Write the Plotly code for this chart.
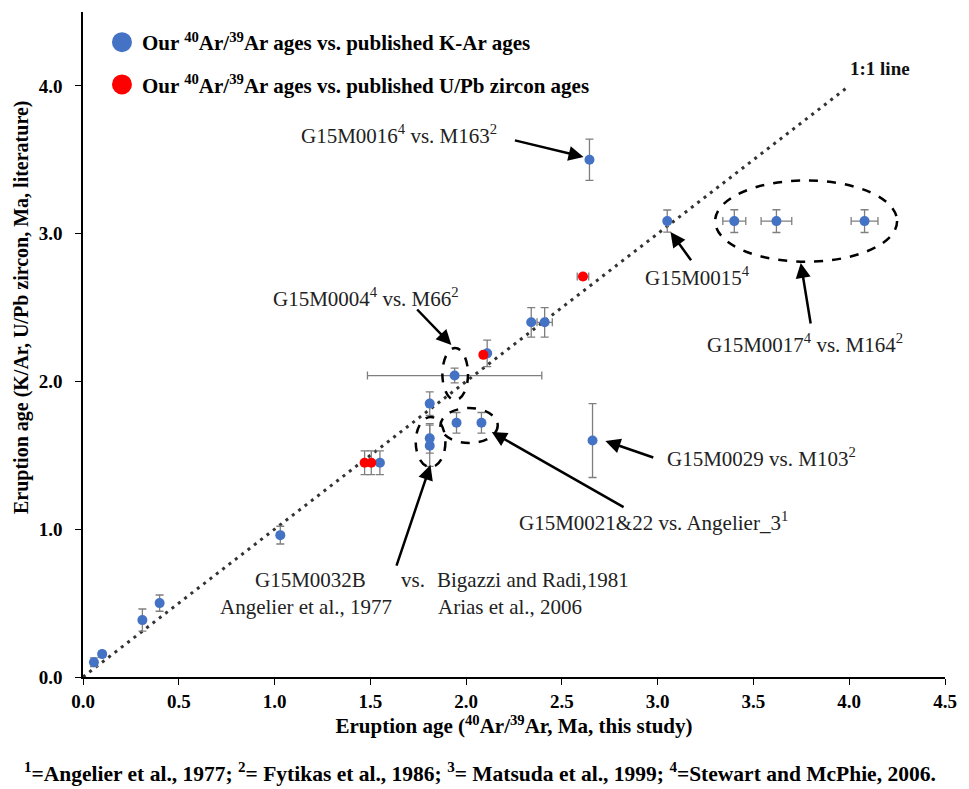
import plotly.graph_objects as go

# ---- data ----
blue_x = [0.057, 0.10, 0.31, 0.40, 1.03, 1.55, 1.81, 1.81, 1.81, 1.94, 1.95, 2.08, 2.11, 2.34, 2.41, 2.644, 3.05, 3.40, 3.62, 4.08, 2.66]
blue_y = [0.10, 0.155, 0.385, 0.50, 0.96, 1.45, 1.565, 1.615, 1.85, 2.04, 1.72, 1.72, 2.19, 2.40, 2.40, 3.50, 3.085, 3.085, 3.085, 3.085, 1.60]
blue_xerr = [0, 0, 0, 0, 0, 0, 0, 0, 0, 0.455, 0, 0, 0, 0, 0.04, 0, 0, 0.06, 0.08, 0.07, 0]
blue_yerr = [0.03, 0.02, 0.075, 0.055, 0.06, 0.08, 0.14, 0.10, 0.08, 0.05, 0.07, 0.07, 0.09, 0.10, 0.10, 0.14, 0.075, 0.077, 0.077, 0.077, 0.25]

red_x = [1.47, 1.505, 2.09, 2.61]
red_y = [1.45, 1.45, 2.18, 2.71]
red_xerr = [0, 0, 0, 0.03]
red_yerr = [0.08, 0.08, 0.0, 0.02]

line_x = [0.0, 4.0]
line_y = [0.0, 4.0]

x_ticks = [0.0, 0.5, 1.0, 1.5, 2.0, 2.5, 3.0, 3.5, 4.0, 4.5]
y_ticks = [0.0, 1.0, 2.0, 3.0, 4.0]

BLUE = "#4472C4"
RED = "#FF0000"
SERIF = "Liberation Serif"
ERRC = "#7f7f7f"

fig = go.Figure()

fig.add_trace(go.Scatter(x=line_x, y=line_y, mode="lines",
                         line=dict(color="#333333", width=3, dash="3px,5px"),
                         showlegend=False, hoverinfo="skip"))

fig.add_trace(go.Scatter(
    x=blue_x, y=blue_y, mode="markers",
    marker=dict(color=BLUE, size=10),
    error_x=dict(type="data", array=blue_xerr, color=ERRC, thickness=1.3, width=4),
    error_y=dict(type="data", array=blue_yerr, color=ERRC, thickness=1.3, width=4),
    showlegend=False, name="K-Ar"))

fig.add_trace(go.Scatter(
    x=red_x, y=red_y, mode="markers",
    marker=dict(color=RED, size=10),
    error_x=dict(type="data", array=red_xerr, color=ERRC, thickness=1.3, width=4),
    error_y=dict(type="data", array=red_yerr, color=ERRC, thickness=1.3, width=4),
    showlegend=False, name="U/Pb"))

# legend-only traces with large markers
fig.add_trace(go.Scatter(x=[None], y=[None], mode="markers",
                         marker=dict(color=BLUE, size=16, line=dict(color=BLUE, width=4)),
                         legendgroup="a",
                         name="<b>Our <sup>40</sup>Ar/<sup>39</sup>Ar ages vs. published K-Ar ages</b>"))
fig.add_trace(go.Scatter(x=[None], y=[None], mode="markers",
                         marker=dict(color=RED, size=16, line=dict(color=RED, width=4)),
                         legendgroup="b",
                         name="<b>Our <sup>40</sup>Ar/<sup>39</sup>Ar ages vs. published U/Pb zircon ages</b>"))

ann_font = dict(family=SERIF, size=21, color="#222222")

# (text, x, y, anchor)
texts = [
    ("G15M0016<sup>4</sup> vs. M163<sup>2</sup>", 1.649, 3.668, "center"),
    ("G15M0004<sup>4</sup> vs. M66<sup>2</sup>", 1.479, 2.565, "center"),
    ("G15M0015<sup>4</sup>", 2.923, 2.707, "left"),
    ("G15M0017<sup>4</sup> vs. M164<sup>2</sup>", 3.247, 2.26, "left"),
    ("G15M0029 vs. M103<sup>2</sup>", 3.036, 1.482, "left"),
    ("G15M0021&22 vs. Angelier_3<sup>1</sup>", 2.98, 1.049, "center"),
    ("G15M0032B", 0.886, 0.656, "left"),
    ("vs.", 1.649, 0.656, "left"),
    ("Bigazzi and Radi,1981", 1.840, 0.656, "left"),
    ("Angelier et al., 1977", 0.706, 0.473, "left"),
    ("Arias et al., 2006", 1.845, 0.473, "left"),
]
for t, x, y, anc in texts:
    fig.add_annotation(x=x, y=y, text=t, showarrow=False, font=ann_font,
                       xanchor=anc, yanchor="middle")

fig.add_annotation(x=4.16, y=4.12, text="<b>1:1 line</b>", showarrow=False,
                   font=dict(family=SERIF, size=19, color="#111111"))

arrows = [
    (2.247, 3.634, 2.613, 3.519),
    (1.737, 2.497, 1.923, 2.247),
    (3.18, 2.81, 3.067, 3.012),
    (3.80, 2.382, 3.747, 2.802),
    (2.985, 1.482, 2.727, 1.597),
    (2.83, 1.144, 2.134, 1.658),
    (1.634, 0.744, 1.814, 1.435),
]
for tx, ty, hx, hy in arrows:
    fig.add_annotation(x=hx, y=hy, ax=tx, ay=ty, xref="x", yref="y",
                       axref="x", ayref="y", text="", showarrow=True,
                       arrowhead=2, arrowsize=1.2, arrowwidth=2.5, arrowcolor="#000000")

ellipses = [
    (1.876, 1.874, 2.01, 2.226),
    (1.737, 1.42, 1.892, 1.76),
    (1.866, 1.583, 2.165, 1.82),
    (3.30, 2.81, 4.25, 3.36),
]
for x0, y0, x1, y1 in ellipses:
    fig.add_shape(type="circle", xref="x", yref="y", x0=x0, y0=y0, x1=x1, y1=y1,
                  line=dict(color="#000000", width=2.5, dash="dash"))

fig.add_annotation(xref="paper", yref="paper", x=0.46, y=-0.144,
                   text="<b><sup>1</sup>=Angelier et al., 1977; <sup>2</sup>= Fytikas et al., 1986; "
                        "<sup>3</sup>= Matsuda et al., 1999; <sup>4</sup>=Stewart and McPhie, 2006.</b>",
                   showarrow=False, font=dict(family=SERIF, size=21.5, color="#000000"),
                   xanchor="center", yanchor="middle")

# y-axis title placed as rotated annotation
fig.add_annotation(xref="paper", yref="paper", x=-0.0722, y=0.556,
                   text="<b>Eruption age (K/Ar, U/Pb zircon, Ma, literature)</b>",
                   textangle=-90, showarrow=False,
                   font=dict(family=SERIF, size=20, color="#000000"),
                   xanchor="center", yanchor="middle")

fig.update_layout(
    width=969, height=789,
    margin=dict(l=83, r=14, t=12, b=112),
    plot_bgcolor="white", paper_bgcolor="white",
    font=dict(family=SERIF, color="#000000"),
    legend=dict(x=0.022, y=0.985, xanchor="left", yanchor="top",
                font=dict(family=SERIF, size=21, color="#000000"),
                itemsizing="trace", tracegroupgap=12, bgcolor="rgba(0,0,0,0)"),
    xaxis=dict(range=[0, 4.5], tickvals=x_ticks, ticktext=[f"<b>{v:.1f}</b>" for v in x_ticks],
               showgrid=False, zeroline=False, showline=True, linecolor="#000000", linewidth=1.5,
               ticks="outside", ticklen=6, tickcolor="#000000",
               tickfont=dict(family=SERIF, size=19, color="#000000"),
               title=dict(text="<b>Eruption age (<sup>40</sup>Ar/<sup>39</sup>Ar, Ma, this study)</b>",
                          font=dict(family=SERIF, size=21), standoff=6)),
    yaxis=dict(range=[0, 4.5], tickvals=y_ticks, ticktext=[f"<b>{v:.1f}</b>" for v in y_ticks],
               showgrid=False, zeroline=False, showline=True, linecolor="#000000", linewidth=1.5,
               ticks="outside", ticklen=6, tickcolor="#000000", ticklabelstandoff=9,
               tickfont=dict(family=SERIF, size=19, color="#000000")),
)

fig.write_html("out.html")
